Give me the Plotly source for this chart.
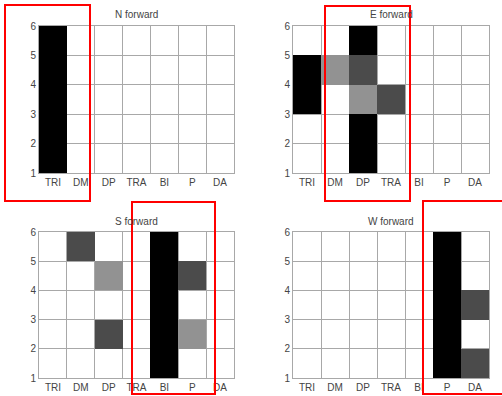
import plotly.graph_objects as go

categories = ["TRI", "DM", "DP", "TRA", "BI", "P", "DA"]
row_centers = [1.5, 2.5, 3.5, 4.5, 5.5]
y_ticks = [1, 2, 3, 4, 5, 6]

# rows bottom (1-2) to top (5-6); 0 = white, 1 = light gray, 2 = dark gray, 3 = black
n_forward = [
    [3, 0, 0, 0, 0, 0, 0],
    [3, 0, 0, 0, 0, 0, 0],
    [3, 0, 0, 0, 0, 0, 0],
    [3, 0, 0, 0, 0, 0, 0],
    [3, 0, 0, 0, 0, 0, 0],
]
e_forward = [
    [0, 0, 3, 0, 0, 0, 0],
    [0, 0, 3, 0, 0, 0, 0],
    [3, 0, 1, 2, 0, 0, 0],
    [3, 1, 2, 0, 0, 0, 0],
    [0, 0, 3, 0, 0, 0, 0],
]
s_forward = [
    [0, 0, 0, 0, 3, 0, 0],
    [0, 0, 2, 0, 3, 1, 0],
    [0, 0, 0, 0, 3, 0, 0],
    [0, 0, 1, 0, 3, 2, 0],
    [0, 2, 0, 0, 3, 0, 0],
]
w_forward = [
    [0, 0, 0, 0, 0, 3, 2],
    [0, 0, 0, 0, 0, 3, 0],
    [0, 0, 0, 0, 0, 3, 2],
    [0, 0, 0, 0, 0, 3, 0],
    [0, 0, 0, 0, 0, 3, 0],
]
titles = ["N forward", "E forward", "S forward", "W forward"]
panels = [n_forward, e_forward, s_forward, w_forward]

W, H = 502, 396
x_doms = [(39 / W, 234 / W), (293 / W, 489 / W)]
y_doms = [(1 - 173 / H, 1 - 26 / H), (1 - 378 / H, 1 - 232 / H)]

# highlight boxes in pixels (left, top, right, bottom)
boxes = [(5, 5, 90, 201), (325, 6, 410, 201), (132, 202, 215, 394), (423, 201, 506, 394)]

font = dict(family="Liberation Sans, Arial, sans-serif", size=10, color="#444444")
grid_c = "#a8a8a8"

fig = go.Figure()
colorscale = [[0, "#929292"], [0.5, "#4b4b4b"], [1, "#000000"]]
for i, (z, title) in enumerate(zip(panels, titles)):
    r, c = divmod(i, 2)
    zz = [[v if v > 0 else None for v in row] for row in z]
    xa = "x" if i == 0 else f"x{i+1}"
    ya = "y" if i == 0 else f"y{i+1}"
    fig.add_trace(go.Heatmap(
        z=zz, x=list(range(len(categories))), y=row_centers,
        colorscale=colorscale, zmin=1, zmax=3, showscale=False,
        xaxis=xa, yaxis=ya, hoverinfo="skip",
    ))
    xkey = "xaxis" if i == 0 else f"xaxis{i+1}"
    ykey = "yaxis" if i == 0 else f"yaxis{i+1}"
    fig.layout[xkey] = dict(
        domain=x_doms[c], anchor=ya, range=[-0.5, len(categories) - 0.5],
        tickmode="array", tickvals=list(range(len(categories))), ticktext=categories,
        showgrid=False, zeroline=False, ticks="", tickfont=font, automargin=False,
        showline=True, mirror=True, linecolor=grid_c, linewidth=1,
        minor=dict(tickmode="array", tickvals=[k - 0.5 for k in range(len(categories) + 1)],
                   showgrid=True, gridcolor=grid_c, gridwidth=1, ticks=""),
        fixedrange=True,
    )
    fig.layout[ykey] = dict(
        domain=y_doms[r], anchor=xa, range=[1, 6],
        tickmode="array", tickvals=y_ticks, showgrid=True, gridcolor=grid_c,
        zeroline=False, ticks="", tickfont=font, automargin=False,
        showline=True, mirror=True, linecolor=grid_c, linewidth=1, fixedrange=True,
    )
    xd = x_doms[c]
    fig.add_annotation(
        text=title, xref="paper", yref="paper", x=(xd[0] + xd[1]) / 2,
        y=y_doms[r][1] + 11 / H, xanchor="center", yanchor="middle",
        showarrow=False, font=font,
    )

for (l, t, rr, b) in boxes:
    fig.add_shape(type="rect", xref="paper", yref="paper",
                  x0=l / W, x1=rr / W, y0=1 - b / H, y1=1 - t / H,
                  line=dict(color="#ff0000", width=2), fillcolor="rgba(0,0,0,0)")

fig.update_layout(
    template="none",
    width=W, height=H, margin=dict(l=0, r=0, t=0, b=0, autoexpand=False),
    paper_bgcolor="white", plot_bgcolor="white", showlegend=False,
)
fig.write_html("out.html", config={"displayModeBar": False},
               post_script="document.body.style.margin='0px';")
